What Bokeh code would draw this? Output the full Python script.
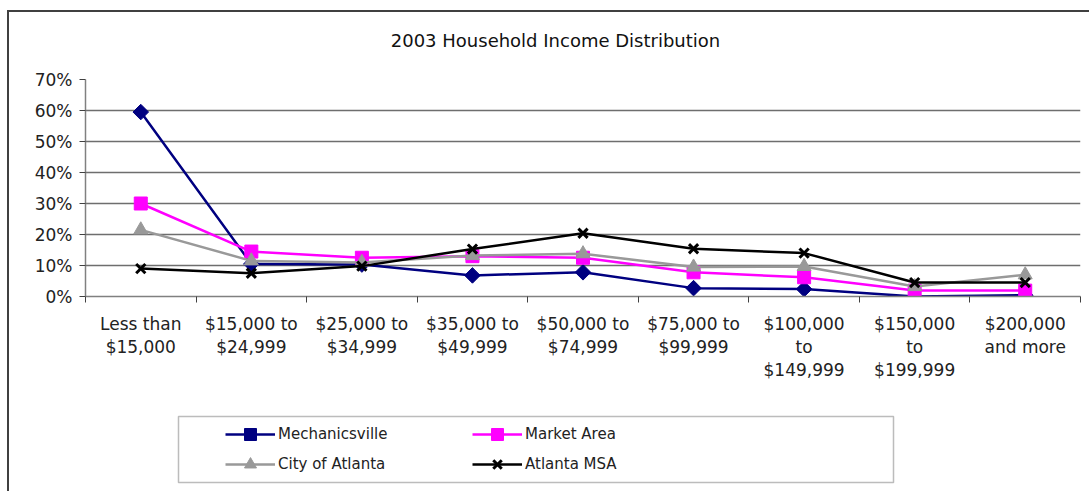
import math
from bokeh.plotting import figure
from bokeh.layouts import column
from bokeh.models import (Range1d, FixedTicker, LinearAxis, Legend, LegendItem,
                          NumeralTickFormatter, Grid, BoxAnnotation, Label)
from bokeh.embed import file_html
from bokeh.resources import INLINE

title_text = "2003 Household Income Distribution"
categories = ["Less than\n$15,000", "$15,000 to\n$24,999", "$25,000 to\n$34,999",
              "$35,000 to\n$49,999", "$50,000 to\n$74,999", "$75,000 to\n$99,999",
              "$100,000\nto\n$149,999", "$150,000\nto\n$199,999", "$200,000\nand more"]
mechanicsville = [59.5, 10.5, 10.3, 6.8, 7.8, 2.7, 2.4, 0.0, 0.4]
market_area = [30.0, 14.5, 12.5, 13.0, 12.5, 7.8, 6.2, 1.9, 1.9]
city_atlanta = [21.5, 11.5, 11.0, 13.2, 13.8, 9.5, 9.7, 3.2, 7.0]
atlanta_msa = [9.0, 7.5, 9.8, 15.3, 20.4, 15.4, 14.0, 4.5, 4.5]
y_ticks = [0, 10, 20, 30, 40, 50, 60, 70]

FONT = "DejaVu Sans"
TXT = "#222222"

# title strip (its frame spans the same columns as the main plot)
pt = figure(width=1080, height=50, output_backend="svg", toolbar_location=None,
            x_range=Range1d(85, 1080), y_range=Range1d(0, 50),
            min_border_left=76, min_border_right=9, min_border_top=0,
            min_border_bottom=0, x_axis_type=None, y_axis_type=None)
pt.xgrid.visible = False
pt.ygrid.visible = False
pt.outline_line_color = None
pt.border_fill_color = "white"
pt.add_layout(Label(x=555, y=22, text=title_text, text_font=FONT,
                    text_font_size="18px", text_align="center",
                    text_baseline="middle", text_color="#111111"))

p = figure(width=1080, height=348, output_backend="svg", toolbar_location=None,
           x_range=Range1d(0, len(categories)), y_range=Range1d(0, 0.70),
           min_border_left=76, min_border_right=9, min_border_top=17,
           min_border_bottom=114, x_axis_type=None, y_axis_type=None)
p.outline_line_color = None
p.background_fill_color = "white"
p.border_fill_color = "white"

# y axis
yax = LinearAxis(ticker=FixedTicker(ticks=[v / 100 for v in y_ticks]))
yax.formatter = NumeralTickFormatter(format="0%")
yax.major_label_text_font = FONT
yax.major_label_text_font_size = "17px"
yax.major_label_text_color = TXT
yax.axis_line_color = "#808080"
yax.axis_line_width = 1.5
yax.major_tick_line_color = "#404040"
yax.major_tick_in = 0
yax.major_tick_out = 6
yax.minor_tick_line_color = None
yax.major_label_standoff = 7
p.add_layout(yax, "left")

# x axis: boundary ticks
xs = [i + 0.5 for i in range(len(categories))]
xax = LinearAxis(ticker=FixedTicker(ticks=list(range(len(categories) + 1))))
xax.major_label_text_font_size = "0px"
xax.major_label_text_color = None
xax.axis_line_color = "#808080"
xax.axis_line_width = 1.5
xax.major_tick_line_color = "#404040"
xax.major_tick_in = 0
xax.major_tick_out = 6
xax.minor_tick_line_color = None
p.add_layout(xax, "below")

# category labels
xlab = LinearAxis(ticker=FixedTicker(ticks=xs))
xlab.major_label_overrides = {x: c for x, c in zip(xs, categories)}
xlab.axis_line_color = None
xlab.major_tick_line_color = None
xlab.minor_tick_line_color = None
xlab.major_label_text_font = FONT
xlab.major_label_text_font_size = "17px"
xlab.major_label_text_color = TXT
xlab.major_label_text_line_height = 1.15
xlab.major_label_standoff = 5
p.add_layout(xlab, "below")

# grid
p.add_layout(Grid(dimension=1, ticker=FixedTicker(ticks=[v / 100 for v in y_ticks]),
                  grid_line_color="#6e6e6e", grid_line_width=1.5))

series = [
    ("Mechanicsville", mechanicsville, "#000080", "square", 11, math.pi / 4),
    ("Market Area", market_area, "#FF00FF", "square", 13, 0),
    ("City of Atlanta", city_atlanta, "#999999", "triangle", 14, 0),
    ("Atlanta MSA", atlanta_msa, "#000000", "x", 13, 0),
]

# legend strip (same frame columns as the main plot; box drawn inside it)
pl = figure(width=1080, height=81, output_backend="svg", toolbar_location=None,
            x_range=Range1d(85, 1080), y_range=Range1d(0, 81),
            min_border_left=76, min_border_right=9, min_border_top=0,
            min_border_bottom=0, x_axis_type=None, y_axis_type=None)
pl.xgrid.visible = False
pl.ygrid.visible = False
pl.outline_line_color = None
pl.border_fill_color = "white"
pl.add_layout(BoxAnnotation(left=178, right=893, top=75, bottom=9,
                            fill_alpha=0, line_color="#222222", line_width=1.5))

nan = [float("nan")]
items = {}
for name, vals, col, marker, sz, ang in series:
    ys = [v / 100 for v in vals]
    p.line(xs, ys, line_color=col, line_width=2.5)
    if marker == "x":
        p.scatter(xs, ys, marker="x", size=sz, line_color=col, line_width=3)
        r2 = pl.scatter(nan, nan, marker="x", size=sz, line_color=col, line_width=3)
    else:
        p.scatter(xs, ys, marker=marker, size=sz, angle=ang,
                  fill_color=col, line_color=col)
        r2 = pl.scatter(nan, nan, marker=marker, size=sz, angle=ang,
                        fill_color=col, line_color=col)
    r1 = pl.line(nan, nan, line_color=col, line_width=2.5)
    items[name] = LegendItem(label=name, renderers=[r1, r2])

# column-major fill: col 1 = Mechanicsville, City of Atlanta; col 2 = Market Area, Atlanta MSA
order = ["Mechanicsville", "City of Atlanta", "Market Area", "Atlanta MSA"]
legend = Legend(items=[items[n] for n in order], ncols=2, location=(140, 12),
                glyph_width=50, glyph_height=30, label_standoff=3,
                label_width=194, spacing=0, padding=0, margin=0,
                label_text_font=FONT, label_text_font_size="15px",
                label_text_color=TXT,
                border_line_alpha=0, background_fill_alpha=0)
pl.add_layout(legend, "center")

layout = column(pt, p, pl, spacing=0, margin=(10, 0, 0, 7),
                styles={"border-left": "2px solid #404040",
                        "border-top": "2px solid #404040"})

open("out.html", "w").write(file_html(layout, INLINE))
